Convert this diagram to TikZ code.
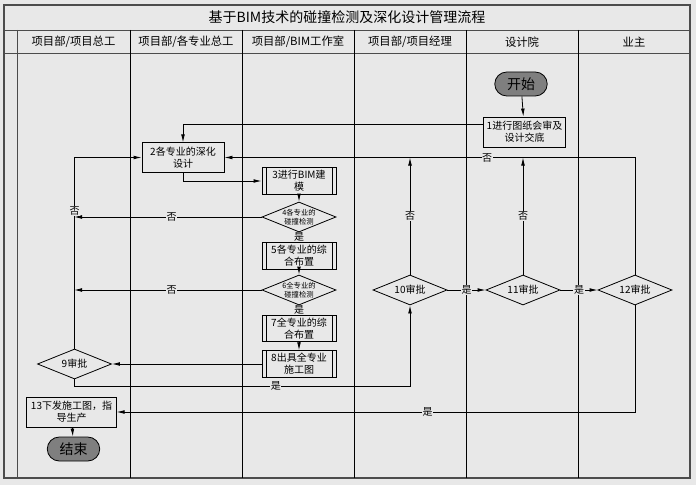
\documentclass[tikz,border=0pt]{standalone}
\usepackage{fontspec}
\setmainfont{Noto Sans CJK SC}
\usetikzlibrary{arrows.meta, shapes.geometric, shapes.misc}
\definecolor{bggray}{HTML}{E8E8E8}
\definecolor{termgray}{HTML}{7F7F7F}
\begin{document}
\begin{tikzpicture}[
  x=0.75pt, y=-0.75pt,
  >={Latex[length=6pt,width=2.8pt]}, line width=0.6pt,
  proc/.style={draw, fill=bggray, align=center, inner sep=0.5pt,
               font=\fontsize{7.5}{9}\selectfont},
  pproc/.style={proc, minimum width=55.5pt, minimum height=20pt,
               path picture={
                 \draw ([xshift=3pt]path picture bounding box.north west) -- ([xshift=3pt]path picture bounding box.south west);
                 \draw ([xshift=-3pt]path picture bounding box.north east) -- ([xshift=-3pt]path picture bounding box.south east);}},
  term/.style={draw, fill=termgray, rounded rectangle, minimum width=46pt,
               minimum height=18pt, font=\fontsize{10.5}{12}\selectfont},
  check/.style={draw, fill=bggray, diamond, aspect=2.5, inner sep=0pt,
               minimum width=55.5pt, minimum height=22.5pt, align=center,
               font=\fontsize{5.5}{6.5}\selectfont},
  appr/.style={check, font=\fontsize{7.5}{9}\selectfont},
  lbl/.style={fill=bggray, inner sep=0.5pt, font=\fontsize{7.5}{9}\selectfont},
  arr/.style={->, draw=black}
]

%% Background and swimlane frame
\fill[bggray] (0,0) rectangle (696,485);
\draw[gray!60!black, line width=0.9pt] (4,5) rectangle (690,478);
\draw[gray!60!black] (4,30) -- (690,30);
\draw[gray!60!black] (4,53) -- (690,53);
\node[font=\fontsize{10.5}{12}\selectfont] (title) at (347,17) {基于BIM技术的碰撞检测及深化设计管理流程};
\draw[gray!60!black] (17,30) -- (17,478);
\foreach \x in {130,242,354,466,578}{\draw (\x,30) -- (\x,478);}
\foreach \x/\head/\nm in {73.5/{项目部/项目总工}/h1, 186/{项目部/各专业总工}/h2, 298/{项目部/BIM工作室}/h3,
                          410/{项目部/项目经理}/h4, 522/{设计院}/h5, 634/{业主}/h6}{
  \node[font=\fontsize{8.5}{10}\selectfont] (\nm) at (\x,42) {\head};
}

%% Nodes
\node[term] (start) at (521,84) {开始};
\node[proc, minimum width=62pt, minimum height=22.5pt] (b1) at (524.5,132) {1进行图纸会审及\\设计交底};
\node[proc, minimum width=61.5pt, minimum height=22pt] (b2) at (183,157.5) {2各专业的深化\\设计};
\node[pproc] (b3) at (299,181) {3进行BIM建\\模};
\node[check] (d4) at (299,217) {4各专业的\\碰撞检测};
\node[pproc] (b5) at (299,256) {5各专业的综\\合布置};
\node[check] (d6) at (299,290) {6全专业的\\碰撞检测};
\node[pproc] (b7) at (299,328.5) {7全专业的综\\合布置};
\node[pproc] (b8) at (299,364) {8出具全专业\\施工图};
\node[appr] (d9) at (74.5,364) {9审批};
\node[appr] (d10) at (410,290) {10审批};
\node[appr] (d11) at (523,290) {11审批};
\node[appr] (d12) at (635,290) {12审批};
\node[proc, minimum width=67pt, minimum height=22.5pt] (b13) at (71.5,412) {13下发施工图，指\\导生产};
\node[term] (end) at (73.5,449) {结束};

\coordinate (y1) at (0,124);
\coordinate (lx) at (74,0);
\coordinate (y9) at (0,386);

%% Connectors
\draw[arr] (start) -- (b1);
\draw[arr] (b1.west |- y1) -| (b2.north);
\draw[arr] (d12.north) |- (b2.east) node[lbl, pos=0.68] {否};
\draw[arr] (b2.south) |- (b3.west);
\draw[arr] (b3) -- (d4);
\draw[arr] (d4) -- (b5) node[lbl, midway] {是};
\draw[arr] (b5) -- (d6);
\draw[arr] (d6) -- (b7) node[lbl, midway] {是};
\draw[arr] (b7) -- (b8);
\draw[arr] (d4.west) -- (d4.west -| lx) node[lbl, pos=0.48] {否};
\draw[arr] (d6.west) -- (d6.west -| lx) node[lbl, pos=0.48] {否};
\draw[arr] (b8.west) -- (d9.east);
\draw[arr] (d9.north) |- (b2.west) node[lbl, pos=0.36] {否};
\draw[arr] (d9.south) |- (d10.south |- y9) node[lbl, pos=0.8] {是} -- (d10.south);
\draw[arr] (d10.north) -- (d10.north |- b2.east) node[lbl, midway] {否};
\draw[arr] (d11.north) -- (d11.north |- b2.east) node[lbl, midway] {否};
\draw[arr] (d10.east) -- (d11.west) node[lbl, midway] {是};
\draw[arr] (d11.east) -- (d12.west) node[lbl, midway] {是};
\draw[arr] (d12.south) |- (b13.east) node[lbl, pos=0.7] {是};
\draw[arr] (b13) -- (end);
\end{tikzpicture}
\end{document}
